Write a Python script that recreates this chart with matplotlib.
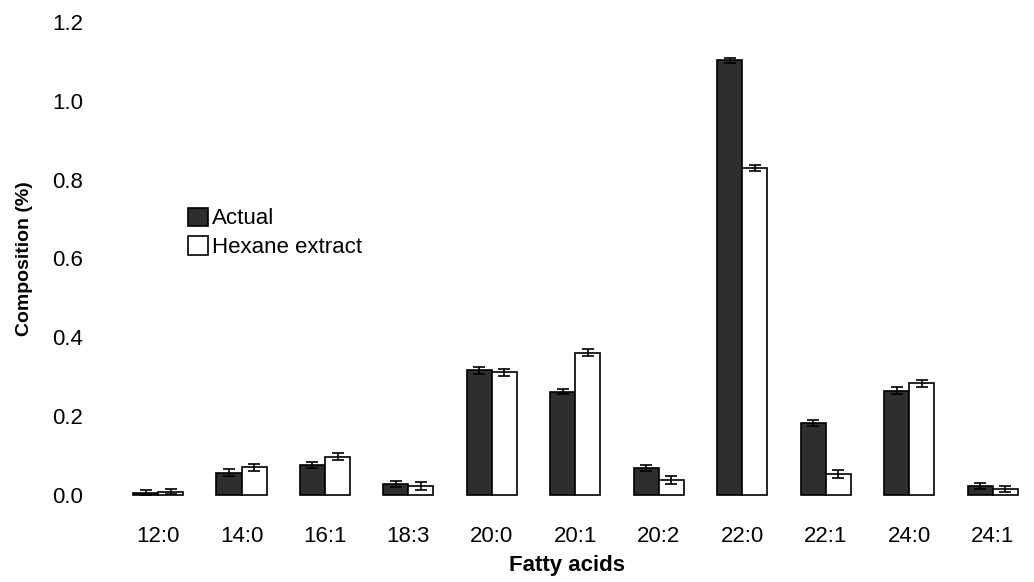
import numpy as np
import matplotlib.pyplot as plt

plt.rcParams['font.family'] = ['Liberation Sans', 'DejaVu Sans']

# Data
acids = ['12:0', '14:0', '16:1', '18:3', '20:0', '20:1', '20:2', '22:0', '22:1', '24:0', '24:1']
actual = [0.006, 0.057, 0.076, 0.028, 0.316, 0.262, 0.068, 1.103, 0.183, 0.265, 0.023]
actual_err = [0.006, 0.008, 0.008, 0.008, 0.009, 0.007, 0.008, 0.006, 0.008, 0.008, 0.007]
hexane = [0.008, 0.070, 0.097, 0.023, 0.311, 0.361, 0.038, 0.829, 0.053, 0.284, 0.016]
hexane_err = [0.006, 0.009, 0.009, 0.010, 0.008, 0.009, 0.010, 0.008, 0.010, 0.009, 0.008]

x = np.arange(len(acids))
w = 0.3

fig = plt.figure(figsize=(10.34, 5.82), dpi=100)
ax = fig.add_axes([108 / 1034, 87 / 582, 918 / 1034, 473 / 582])

ax.bar(x - w / 2, actual, w, yerr=actual_err, color='#2e2e2e', edgecolor='black',
       linewidth=1.2, capsize=4, error_kw=dict(elinewidth=1.2, capthick=1.2),
       label='Actual', clip_on=False)
ax.bar(x + w / 2, hexane, w, yerr=hexane_err, color='white', edgecolor='black',
       linewidth=1.2, capsize=4, error_kw=dict(elinewidth=1.2, capthick=1.2),
       label='Hexane extract', clip_on=False)

ax.set_xlim(-0.6, 10.4)
ax.set_ylim(0, 1.2)
ax.set_yticks([0.0, 0.2, 0.4, 0.6, 0.8, 1.0, 1.2])
ax.set_yticklabels(['0.0', '0.2', '0.4', '0.6', '0.8', '1.0', '1.2'])
ax.set_xticks(x)
ax.set_xticklabels(acids)
ax.tick_params(axis='both', length=0, labelsize=16)
ax.tick_params(axis='x', pad=22)
ax.tick_params(axis='y', pad=18)
for s in ax.spines.values():
    s.set_visible(False)

ax.set_xlabel('Fatty acids', fontsize=16, fontweight='bold', labelpad=6)
ax.set_ylabel('Composition (%)', fontsize=14, fontweight='bold', labelpad=14)

ax.legend(loc='upper left', bbox_to_anchor=(0.065, 0.65), frameon=False, fontsize=16,
          handlelength=0.9, handleheight=0.9, handletextpad=0.2, labelspacing=0.3)

fig.savefig('out.png', dpi=100)
